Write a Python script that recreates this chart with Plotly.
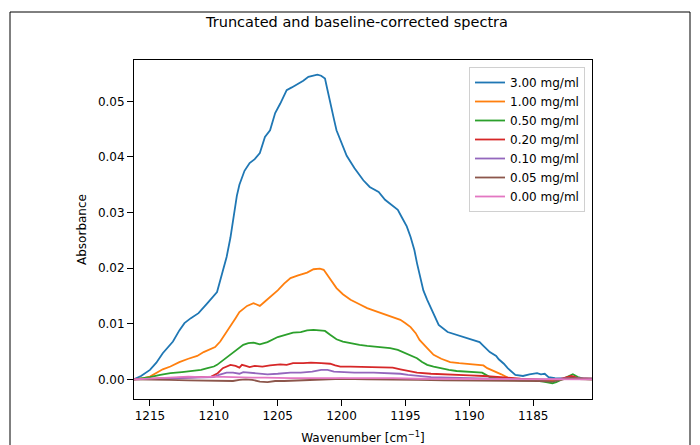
import plotly.graph_objects as go

labels = ["3.00 mg/ml", "1.00 mg/ml", "0.50 mg/ml", "0.20 mg/ml", "0.10 mg/ml", "0.05 mg/ml", "0.00 mg/ml"]
colors = ["#1f77b4", "#ff7f0e", "#2ca02c", "#d62728", "#9467bd", "#8c564b", "#e377c2"]

wn_300 = [1216.25, 1215.7, 1215.0, 1214.5, 1214.0, 1213.2, 1212.7, 1212.3, 1211.8, 1211.2, 1210.5, 1209.75,
          1209.3, 1209.0, 1208.7, 1208.4, 1208.2, 1208.0, 1207.6, 1207.2, 1206.8, 1206.4, 1206.0, 1205.6,
          1205.2, 1204.8, 1204.3, 1203.9, 1203.5, 1203.0, 1202.6, 1202.2, 1201.9, 1201.6, 1201.3, 1201.1,
          1200.9, 1200.6, 1200.4, 1200.0, 1199.6, 1199.0, 1198.3, 1197.8, 1197.1, 1196.6, 1196.0, 1195.6,
          1195.3, 1194.9, 1194.6, 1194.3, 1194.1, 1193.8, 1193.6, 1193.3, 1192.8, 1192.4, 1191.7, 1191.0,
          1190.2, 1189.2, 1188.8, 1188.4, 1187.9, 1187.7, 1187.3, 1187.0, 1186.4, 1185.8, 1185.3, 1184.7,
          1184.4, 1184.1, 1183.8, 1183.3, 1182.5, 1181.5, 1180.4]
abs_300 = [0.0000, 0.0006, 0.0017, 0.0030, 0.0047, 0.0068, 0.0088, 0.0101, 0.0110, 0.0119, 0.0137, 0.0157,
           0.0195, 0.0220, 0.0255, 0.0300, 0.0330, 0.0350, 0.0375, 0.0389, 0.0396, 0.0407, 0.0436, 0.0448,
           0.0479, 0.0496, 0.0520, 0.0525, 0.0530, 0.0537, 0.0544, 0.0546, 0.0548, 0.0546, 0.0541, 0.0520,
           0.0497, 0.0468, 0.0448, 0.0425, 0.0402, 0.0380, 0.0358, 0.0346, 0.0337, 0.0323, 0.0313, 0.0305,
           0.0292, 0.0275, 0.0256, 0.0232, 0.0209, 0.0180, 0.0160, 0.0143, 0.0118, 0.0098, 0.0085, 0.0080,
           0.0074, 0.0067, 0.0058, 0.0049, 0.0042, 0.0036, 0.0028, 0.0020, 0.0008, 0.0006, 0.0009, 0.0011,
           0.0009, 0.0010, 0.0004, 0.0002, 0.0001, 0.0001, 0.0000]

wn_100 = [1216.25, 1215.5, 1215.0, 1214.5, 1214.0, 1213.4, 1212.7, 1212.0, 1211.3, 1210.8, 1210.2, 1209.9,
          1209.5, 1209.0, 1208.7, 1208.3, 1208.0, 1207.4, 1206.9, 1206.4, 1206.0, 1205.5, 1205.0, 1204.5,
          1204.0, 1203.4, 1202.7, 1202.2, 1201.7, 1201.4, 1201.0, 1200.4, 1199.9, 1199.3, 1198.6, 1198.0,
          1197.4, 1196.75, 1196.0, 1195.4, 1195.0, 1194.6, 1194.2, 1193.9, 1193.3, 1192.8, 1192.2, 1191.5,
          1190.8, 1190.2, 1189.2, 1188.9, 1188.6, 1188.3, 1188.0, 1187.5, 1187.0, 1186.5, 1185.5, 1184.5,
          1183.5, 1182.5, 1181.5, 1180.4]
abs_100 = [0.0000, 0.0002, 0.0005, 0.0012, 0.0018, 0.0023, 0.0031, 0.0037, 0.0042, 0.0049, 0.0055, 0.0058,
           0.0068, 0.0085, 0.0094, 0.0110, 0.0121, 0.0132, 0.0137, 0.0132, 0.0140, 0.0150, 0.0160, 0.0172,
           0.0182, 0.0187, 0.0192, 0.0198, 0.0199, 0.0197, 0.0183, 0.0164, 0.0153, 0.0143, 0.0135, 0.0128,
           0.0123, 0.0118, 0.0113, 0.0107, 0.0101, 0.0094, 0.0083, 0.0071, 0.0056, 0.0044, 0.0037, 0.0031,
           0.0029, 0.0028, 0.0026, 0.0025, 0.0020, 0.0017, 0.0015, 0.0009, 0.0003, 0.0001, 0.0000, -0.0001,
           -0.0002, 0.0001, 0.0001, 0.0000]

wn_050 = [1216.25, 1215.0, 1214.2, 1213.4, 1212.5, 1211.6, 1211.0, 1210.5, 1210.0, 1209.75, 1209.4, 1209.0,
          1208.4, 1207.7, 1207.3, 1206.9, 1206.4, 1205.8, 1205.0, 1204.4, 1203.8, 1203.2, 1202.7, 1202.2,
          1201.6, 1201.3, 1200.9, 1200.4, 1199.9, 1199.3, 1198.6, 1198.0, 1197.0, 1196.2, 1195.6, 1195.2,
          1194.6, 1194.1, 1193.7, 1193.3, 1192.8, 1192.3, 1191.6, 1191.0, 1190.0, 1189.0, 1188.7, 1188.4,
          1187.8, 1187.0, 1186.0, 1185.0, 1184.2, 1183.8, 1183.5, 1183.2, 1182.8, 1182.3, 1181.9, 1181.5,
          1181.0, 1180.4]
abs_050 = [0.0000, 0.0004, 0.0008, 0.0011, 0.0013, 0.0015, 0.0017, 0.0020, 0.0023, 0.0026, 0.0032, 0.0040,
           0.0050, 0.0062, 0.0065, 0.0066, 0.0063, 0.0067, 0.0076, 0.0080, 0.0084, 0.0085, 0.0088, 0.0089,
           0.0088, 0.0087, 0.0080, 0.0072, 0.0068, 0.0065, 0.0062, 0.0060, 0.0058, 0.0056, 0.0053, 0.0049,
           0.0044, 0.0038, 0.0031, 0.0026, 0.0023, 0.0020, 0.0017, 0.0015, 0.0013, 0.0012, 0.0008, 0.0004,
           0.0002, -0.0001, -0.0002, -0.0002, -0.0004, -0.0006, -0.0007, -0.0005, -0.0001, 0.0004, 0.0009, 0.0004,
           0.0001, 0.0001]

wn_020 = [1216.25, 1215.0, 1213.5, 1212.0, 1211.0, 1210.2, 1209.7, 1209.3, 1208.7, 1208.3, 1208.0, 1207.8,
          1207.5, 1207.2, 1206.8, 1206.2, 1205.6, 1204.8, 1204.3, 1203.8, 1203.0, 1202.4, 1201.6, 1200.9,
          1200.5, 1200.1, 1199.3, 1198.0, 1196.75, 1196.0, 1195.4, 1194.8, 1194.1, 1193.0, 1191.5, 1190.0,
          1188.9, 1188.0, 1187.0, 1186.0, 1185.0, 1184.0, 1183.0, 1182.4, 1182.0, 1181.5, 1180.4]
abs_020 = [0.0000, 0.0001, 0.0002, 0.0003, 0.0004, 0.0005, 0.0011, 0.0020, 0.0026, 0.0024, 0.0021, 0.0026,
           0.0024, 0.0022, 0.0024, 0.0023, 0.0025, 0.0027, 0.0026, 0.0029, 0.0029, 0.0030, 0.0029, 0.0028,
           0.0025, 0.0023, 0.0023, 0.0022, 0.0022, 0.0021, 0.0018, 0.0015, 0.0012, 0.0010, 0.0008, 0.0007,
           0.0006, 0.0005, 0.0003, 0.0001, 0.0000, -0.0001, 0.0000, 0.0004, 0.0006, 0.0002, 0.0001]

wn_010 = [1216.25, 1215.0, 1213.0, 1211.0, 1210.0, 1209.6, 1209.0, 1208.5, 1208.0, 1207.7, 1207.3, 1206.5,
          1205.8, 1205.0, 1204.0, 1203.2, 1202.3, 1201.6, 1201.1, 1200.6, 1200.0, 1199.0, 1197.5, 1196.0,
          1195.4, 1194.8, 1194.1, 1193.0, 1191.5, 1190.0, 1188.0, 1186.0, 1184.0, 1182.0, 1180.4]
abs_010 = [0.0000, 0.0001, 0.0002, 0.0003, 0.0004, 0.0008, 0.0012, 0.0012, 0.0010, 0.0013, 0.0012, 0.0010,
           0.0009, 0.0010, 0.0012, 0.0012, 0.0014, 0.0017, 0.0017, 0.0014, 0.0013, 0.0012, 0.0012, 0.0011,
           0.0010, 0.0008, 0.0006, 0.0004, 0.0003, 0.0002, 0.0001, 0.0000, 0.0000, 0.0002, 0.0001]

wn_005 = [1216.25, 1215.0, 1213.5, 1212.0, 1211.0, 1210.0, 1209.2, 1208.5, 1208.0, 1207.5, 1207.0, 1206.4,
          1205.8, 1205.2, 1204.5, 1203.5, 1202.7, 1202.0, 1201.0, 1200.0, 1198.0, 1196.0, 1194.0, 1192.0,
          1190.0, 1188.0, 1186.0, 1184.5, 1183.5, 1182.8, 1182.0, 1181.5, 1180.4]
abs_005 = [0.0000, 0.0000, -0.0001, -0.0002, -0.0002, -0.0003, -0.0002, -0.0003, -0.0001, 0.0000, -0.0001, -0.0004,
           -0.0005, -0.0003, -0.0003, -0.0002, -0.0001, 0.0000, 0.0001, 0.0001, 0.0000, 0.0000, -0.0001, -0.0002,
           -0.0002, -0.0002, -0.0003, -0.0003, -0.0004, -0.0001, 0.0003, 0.0001, 0.0000]

wn_000 = [1216.25, 1215.0, 1213.5, 1212.0, 1211.0, 1210.0, 1209.0, 1208.0, 1207.0, 1206.0, 1205.0, 1204.0,
          1203.0, 1202.0, 1201.0, 1200.0, 1198.0, 1196.0, 1194.0, 1192.0, 1190.0, 1188.0, 1186.0, 1184.0,
          1182.0, 1180.4]
abs_000 = [0.0000, 0.0001, 0.0003, 0.0005, 0.0004, 0.0005, 0.0004, 0.0004, 0.0003, 0.0003, 0.0002, 0.0002,
           0.0002, 0.0002, 0.0003, 0.0002, 0.0002, 0.0002, 0.0001, 0.0001, 0.0000, 0.0000, 0.0001, 0.0000,
           0.0001, 0.0000]

x_ticks = [1215, 1210, 1205, 1200, 1195, 1190, 1185]
y_ticks = [0.00, 0.01, 0.02, 0.03, 0.04, 0.05]

series_x = [wn_300, wn_100, wn_050, wn_020, wn_010, wn_005, wn_000]
series_y = [abs_300, abs_100, abs_050, abs_020, abs_010, abs_005, abs_000]

FONT = "DejaVu Sans"

fig = go.Figure()
for xs, ys, lab, col in zip(series_x, series_y, labels, colors):
    fig.add_trace(go.Scatter(x=xs, y=ys, mode="lines", name=lab,
                             line=dict(color=col, width=1.8)))

# The page body adds an 8px offset, so the figure is laid out in figure coords
OFF = 8
FW, FH = 692, 437
# plot area in page pixels: x 134..592, y 60..399
L, R, T, B = 134 - OFF, 592 - OFF, 60 - OFF, 399 - OFF
W, H = R - L, B - T

fig.update_layout(
    width=FW, height=FH,
    margin=dict(l=L, r=FW - R, t=T, b=FH - B, autoexpand=False),
    paper_bgcolor="white", plot_bgcolor="white",
    font=dict(family=FONT, size=12, color="black"),
    title=dict(text="Truncated and baseline-corrected spectra", x=(357 - OFF) / FW, xref="container",
               xanchor="center", y=1 - (22 - OFF) / FH, yref="container", yanchor="middle",
               font=dict(size=14.5, family=FONT, color="black")),
    showlegend=True,
    legend=dict(x=(585 - OFF - L) / W, y=(B - (67 - OFF)) / H, xanchor="right", yanchor="top",
                bgcolor="white", bordercolor="#d0d0d0", borderwidth=1,
                font=dict(size=12, family=FONT, color="black"),
                tracegroupgap=0, itemwidth=30),
    xaxis=dict(range=[1216.25, 1180.4], tickvals=x_ticks, ticktext=[str(v) for v in x_ticks],
               showgrid=False, zeroline=False, showline=True, linecolor="black", linewidth=1,
               mirror=True, ticks="outside", ticklen=6, tickcolor="black", automargin=False,
               title=dict(text="Wavenumber [cm<sup>\u22121</sup>]", standoff=13,
                          font=dict(size=12, family=FONT))),
    yaxis=dict(range=[-0.00354, 0.05743], tickvals=y_ticks, ticktext=["%.2f" % v for v in y_ticks],
               showgrid=False, zeroline=False, showline=True, linecolor="black", linewidth=1,
               mirror=True, ticks="outside", ticklen=6, tickcolor="black", automargin=False,
               title=dict(text="Absorbance", standoff=8, font=dict(size=12, family=FONT))),
    shapes=[dict(type="rect", xref="paper", yref="paper",
                 x0=(10 - OFF - L) / W, x1=(690 - OFF - L) / W, y0=(B - (470 - OFF)) / H,
                 y1=(B - (12 - OFF)) / H,
                 line=dict(color="black", width=1), fillcolor="rgba(0,0,0,0)", layer="below")],
)

fig.write_html("out.html")
